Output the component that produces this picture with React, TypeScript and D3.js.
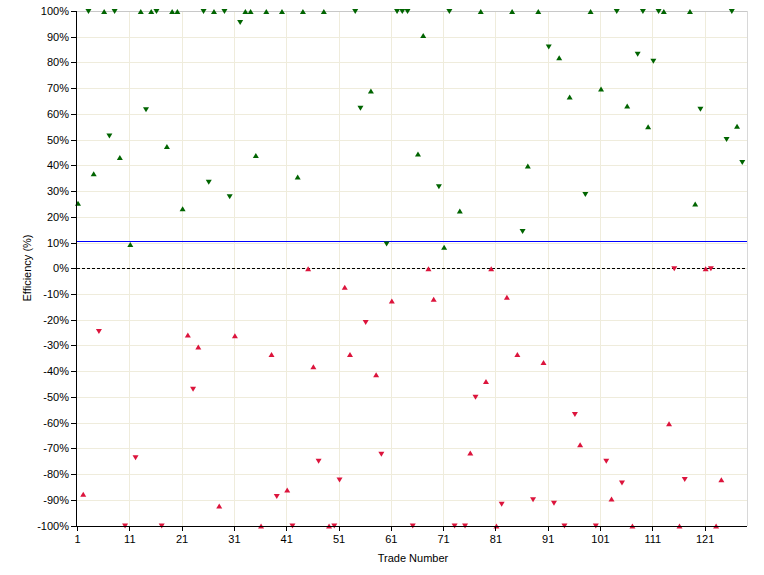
import React from "react";
import * as d3 from "d3";

// Efficiency (%) of each trade, trade number = index + 1
const efficiency: number[] = [
  25.4, -87.7, 100, 36.9, -24.4, 100, 51.6, 100, 43.2, -100,
  9.4, -73.4, 100, 61.8, 100, 100, -100, 47.5, 100, 100,
  23.3, -25.8, -46.8, -30.5, 100, 33.7, 100, -92.3, 100, 28.0,
  -26.1, 95.8, 100, 100, 44.0, -100, 100, -33.4, -88.5, 100,
  -86, -100, 35.6, 100, 0, -38.1, -74.8, 100, -100, -100,
  -82.1, -7.2, -33.4, 100, 62.4, -20.9, 69.1, -41.2, -72.1, 9.7,
  -12.6, 100, 100, 100, -100, 44.6, 90.6, 0, -11.9, 31.9,
  8.3, 100, -100, 22.4, -100, -71.7, -49.9, 100, -43.9, 0,
  -100, -91.5, -11.1, 100, -33.4, 14.5, 39.9, -89.8, 100, -36.5,
  86.2, -91.1, 82.0, -100, 66.7, -56.6, -68.5, 28.9, 100, -100,
  69.8, -74.8, -89.5, 100, -83.2, 63.2, -100, 83.4, 100, 55.2,
  80.7, 100, 100, -60.3, 0, -100, -81.9, 100, 25.1, 62.0,
  0, 0, -100, -82.1, 50.3, 100, 55.4, 41.3,
];

// Trade direction: U = long (up triangle), D = short (down triangle)
const direction: string[] = [
  "U", "U", "D", "U", "D", "U", "D", "D", "U", "D",
  "U", "D", "U", "D", "U", "D", "D", "U", "U", "U",
  "U", "U", "D", "U", "D", "D", "U", "U", "D", "D",
  "U", "D", "U", "U", "U", "U", "U", "U", "D", "U",
  "U", "D", "U", "U", "U", "U", "D", "U", "U", "D",
  "D", "U", "U", "D", "D", "D", "U", "U", "D", "D",
  "U", "D", "D", "D", "D", "U", "U", "U", "U", "D",
  "U", "D", "D", "U", "D", "U", "D", "U", "U", "U",
  "U", "D", "U", "U", "U", "D", "U", "D", "U", "U",
  "D", "D", "U", "D", "U", "D", "U", "D", "U", "D",
  "U", "D", "U", "D", "D", "U", "U", "D", "D", "U",
  "D", "D", "U", "U", "D", "U", "D", "U", "U", "D",
  "U", "D", "U", "U", "D", "D", "U", "D",
];

const averageEfficiency = 10.4;

const xTickValues: number[] = [1, 11, 21, 31, 41, 51, 61, 71, 81, 91, 101, 111, 121];
const yTickValues: number[] = [
  -100, -90, -80, -70, -60, -50, -40, -30, -20, -10,
  0, 10, 20, 30, 40, 50, 60, 70, 80, 90, 100,
];
const xDomain: [number, number] = [1, 129];
const yDomain: [number, number] = [-100, 100];

const W = 764;
const H = 575;
const PLOT = { left: 77, right: 746.5, top: 11, bottom: 525.5 };
const FONT = "'Liberation Sans', Arial, sans-serif";
const GREEN = "#006400";
const RED = "#dc143c";
const GRID = "#efecdc";

const UP = "M0,-2.6L3,2.4L-3,2.4Z";
const DOWN = "M-3,-2.4L3,-2.4L0,2.6Z";

export default function App() {
  const x = d3.scaleLinear().domain(xDomain).range([PLOT.left, PLOT.right]);
  const y = d3.scaleLinear().domain(yDomain).range([PLOT.bottom, PLOT.top]);
  const crisp = (v: number) => Math.round(v) + 0.5;

  const points = efficiency.map((v, i) => ({
    trade: i + 1,
    value: v,
    dir: direction[i],
  }));

  return (
    <svg
      width={W}
      height={H}
      style={{ position: "absolute", left: 0, top: 0, background: "#fff" }}
      fontFamily={FONT}
    >
      <rect x={0} y={0} width={W} height={H} fill="#fff" />
      {/* horizontal grid */}
      {yTickValues
        .filter((t) => t > -100 && t < 100)
        .map((t) => (
          <line
            key={"hg" + t}
            x1={PLOT.left}
            x2={PLOT.right}
            y1={crisp(y(t))}
            y2={crisp(y(t))}
            stroke={GRID}
            strokeWidth={1}
            shapeRendering="crispEdges"
          />
        ))}
      {/* vertical grid */}
      {xTickValues
        .filter((t) => t > 1)
        .map((t) => (
          <line
            key={"vg" + t}
            x1={crisp(x(t))}
            x2={crisp(x(t))}
            y1={PLOT.top}
            y2={PLOT.bottom}
            stroke={GRID}
            strokeWidth={1}
            shapeRendering="crispEdges"
          />
        ))}
      {/* top and right frame */}
      <line
        x1={PLOT.left}
        x2={PLOT.right}
        y1={crisp(y(100))}
        y2={crisp(y(100))}
        stroke="#c8c8c8"
        strokeWidth={1.5}
        shapeRendering="crispEdges"
      />
      <line
        x1={crisp(PLOT.right)}
        x2={crisp(PLOT.right)}
        y1={PLOT.top}
        y2={PLOT.bottom}
        stroke="#d8d8d8"
        strokeWidth={1}
        shapeRendering="crispEdges"
      />
      {/* zero dashed line */}
      <line
        x1={PLOT.left}
        x2={PLOT.right}
        y1={crisp(y(0))}
        y2={crisp(y(0))}
        stroke="#000"
        strokeWidth={1}
        strokeDasharray="3,2"
        shapeRendering="crispEdges"
      />
      {/* average line */}
      <line
        x1={PLOT.left}
        x2={PLOT.right}
        y1={crisp(y(averageEfficiency))}
        y2={crisp(y(averageEfficiency))}
        stroke="#0000ff"
        strokeWidth={1}
        shapeRendering="crispEdges"
      />
      {/* markers */}
      {points.map((p) => (
        <path
          key={"m" + p.trade}
          d={p.dir === "U" ? UP : DOWN}
          transform={`translate(${x(p.trade) + 1},${y(p.value) + 0.5})`}
          fill={p.value > 0 ? GREEN : RED}
        />
      ))}
      {/* axes */}
      <line
        x1={crisp(PLOT.left) - 1}
        x2={crisp(PLOT.left) - 1}
        y1={PLOT.top}
        y2={PLOT.bottom + 0.5}
        stroke="#000"
        strokeWidth={1}
        shapeRendering="crispEdges"
      />
      <line
        x1={PLOT.left - 1}
        x2={PLOT.right}
        y1={crisp(PLOT.bottom)}
        y2={crisp(PLOT.bottom)}
        stroke="#000"
        strokeWidth={1}
        shapeRendering="crispEdges"
      />
      {/* y ticks */}
      {yTickValues.map((t) => (
        <g key={"yt" + t}>
          <line
            x1={PLOT.left - 6}
            x2={PLOT.left}
            y1={crisp(y(t))}
            y2={crisp(y(t))}
            stroke="#000"
            strokeWidth={1}
            shapeRendering="crispEdges"
          />
          <text
            x={69}
            y={y(t) + 4}
            textAnchor="end"
            fontSize={11}
            fill="#000"
          >
            {t + "%"}
          </text>
        </g>
      ))}
      {/* x ticks */}
      {xTickValues.map((t) => (
        <g key={"xt" + t}>
          <line
            x1={crisp(x(t))}
            x2={crisp(x(t))}
            y1={PLOT.bottom}
            y2={PLOT.bottom + 5}
            stroke="#000"
            strokeWidth={1}
            shapeRendering="crispEdges"
          />
          <text x={x(t) + 0.5} y={543} textAnchor="middle" fontSize={11} fill="#000">
            {t}
          </text>
        </g>
      ))}
      {/* axis titles */}
      <text x={413} y={562} textAnchor="middle" fontSize={11} fill="#000">
        Trade Number
      </text>
      <text
        transform="translate(31,268) rotate(-90)"
        textAnchor="middle"
        fontSize={11}
        fill="#000"
      >
        Efficiency (%)
      </text>
    </svg>
  );
}
